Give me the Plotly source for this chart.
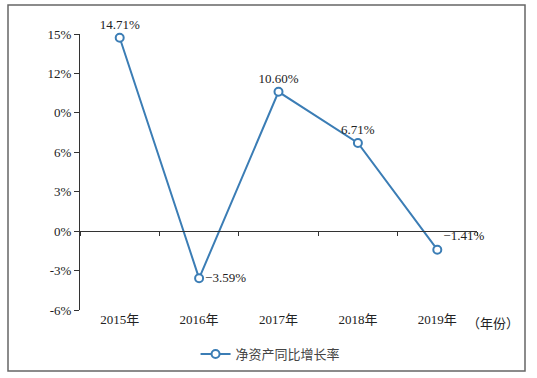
import plotly.graph_objects as go

years = ["2015年", "2016年", "2017年", "2018年", "2019年"]
growth = [14.71, -3.59, 10.60, 6.71, -1.41]
labels = ["14.71%", "−3.59%", "10.60%", "6.71%", "−1.41%"]
label_pos = ["top center", "middle right", "top center", "top center", "top right"]
ytick_vals = [-6, -3, 0, 3, 6, 9, 12, 15]
ytick_text = ["-6%", "-3%", "0%", "3%", "6%", "0%", "12%", "15%"]

ymin, ymax = -6, 15
serif = "Liberation Serif, Times New Roman, Noto Sans CJK SC, serif"
blue = "#3b7db5"

fig = go.Figure()
fig.add_trace(go.Scatter(
    x=years, y=growth, mode="lines+markers+text", name="净资产同比增长率",
    text=labels, textposition=label_pos,
    textfont=dict(family=serif, size=13, color="#222"),
    line=dict(color=blue, width=2),
    marker=dict(symbol="circle", size=8, color="white", line=dict(color=blue, width=2)),
    cliponaxis=False,
))
# helper axis at y=0 for the zero line with boundary ticks
fig.add_trace(go.Scatter(x=years, y=[None]*5, xaxis="x2", showlegend=False, hoverinfo="skip"))

fig.update_layout(
    width=537, height=378,
    margin=dict(l=80, r=60, t=34, b=68, autoexpand=False),
    paper_bgcolor="white", plot_bgcolor="white",
    font=dict(family=serif, size=13, color="#222"),
    xaxis=dict(type="category", showline=False, showgrid=False, zeroline=False,
               ticks="", tickfont=dict(family=serif, size=13, color="#222"),
               range=[-0.5, 4.5]),
    xaxis2=dict(type="category", overlaying="x", matches="x", anchor="free",
                position=(0 - ymin) / (ymax - ymin), showline=True, linecolor="#333",
                linewidth=1, ticks="outside", tickson="boundaries", ticklen=4,
                tickcolor="#333", showticklabels=False, showgrid=False, zeroline=False),
    yaxis=dict(range=[ymin, ymax], tickvals=ytick_vals, ticktext=ytick_text,
               showline=True, linecolor="#333", linewidth=1, ticks="outside",
               ticklen=5, tickcolor="#333", showgrid=False, zeroline=False,
               tickfont=dict(family=serif, size=13, color="#222")),
    legend=dict(orientation="h", x=0.48, xanchor="center", y=-0.105, yanchor="top",
                bgcolor="rgba(0,0,0,0)",
                font=dict(family=serif, size=13, color="#444")),
    showlegend=True,
)
fig.add_annotation(text="（年份）", xref="paper", yref="paper", x=(521 - 80) / 397, y=0,
                   xanchor="right", yanchor="top", yshift=-4, showarrow=False,
                   font=dict(family=serif, size=13, color="#222"))
# outer border
fig.add_shape(type="rect", xref="paper", yref="paper",
              x0=(8 - 80) / 397, x1=(525 - 80) / 397,
              y0=(310 - 371) / 276, y1=(310 - 5) / 276,
              line=dict(color="#666", width=1.5), layer="below")

fig.write_html("out.html", config={"displayModeBar": False},
               post_script="document.body.style.margin='0';document.body.style.overflow='hidden';")
